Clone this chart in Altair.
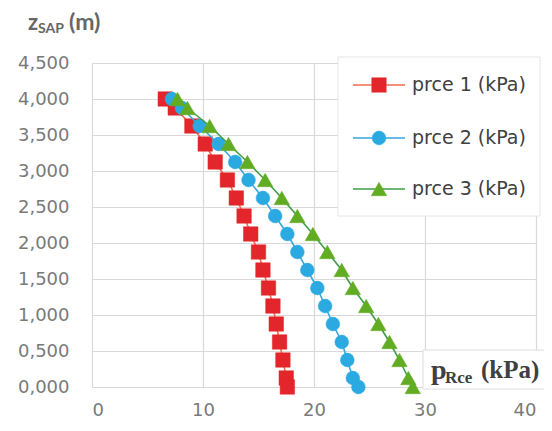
import altair as alt
import pandas as pd

# ---- data ----
z = [4.0, 3.875, 3.625, 3.375, 3.125, 2.875, 2.625, 2.375, 2.125,
     1.875, 1.625, 1.375, 1.125, 0.875, 0.625, 0.375, 0.125, 0.0]
p1 = [6.6, 7.5, 9.0, 10.2, 11.1, 12.2, 13.0, 13.7, 14.3,
      15.0, 15.4, 15.9, 16.3, 16.6, 16.9, 17.2, 17.5, 17.6]
p2 = [7.2, 8.1, 9.7, 11.4, 12.9, 14.1, 15.4, 16.5, 17.6,
      18.5, 19.4, 20.3, 21.0, 21.7, 22.5, 23.0, 23.5, 24.0]
p3 = [7.7, 8.6, 10.6, 12.3, 14.0, 15.6, 17.1, 18.5, 19.9,
      21.2, 22.5, 23.5, 24.7, 25.8, 26.8, 27.7, 28.5, 28.9]
series = ["prce 1 (kPa)", "prce 2 (kPa)", "prce 3 (kPa)"]
x_ticks = [0, 10, 20, 30, 40]
y_ticks = [0, 0.5, 1.0, 1.5, 2.0, 2.5, 3.0, 3.5, 4.0, 4.5]

# ---- styles ----
line_colors = ["#F26B4F", "#3AA6DD", "#3E9E48"]
fill_colors = ["#E3262B", "#2BA9E1", "#62AC24"]
shapes = ["square", "circle", "triangle-up"]
sizes = [210, 190, 240]
SANS = "DejaVu Sans"
TSANS = "Lato"
SERIF = "Liberation Serif"
W, H = 444, 324

rows = []
for s, vals in zip(series, [p1, p2, p3]):
    for zz, v in zip(z, vals):
        rows.append({"series": s, "p": v, "z": zz})
df = pd.DataFrame(rows)

x_enc = alt.X("p:Q", scale=alt.Scale(domain=[0, 40], nice=False),
              axis=alt.Axis(values=x_ticks, grid=True, gridColor="#D9D9D9",
                            gridWidth=1.2, domain=False, ticks=False,
                            labelFont=SANS, labelFontSize=18,
                            labelColor="#7A7A7A", labelPadding=14, title=None))
y_enc = alt.Y("z:Q", scale=alt.Scale(domain=[0, 4.5], nice=False),
              axis=alt.Axis(values=y_ticks, grid=True, gridColor="#D9D9D9",
                            gridWidth=1.2, domain=False, ticks=False,
                            labelExpr="replace(format(datum.value, '.3f'), '.', ',')",
                            labelFont=SANS, labelFontSize=18,
                            labelColor="#7A7A7A", labelPadding=23, title=None))

layers = []
for s, lc, fc, sh, sz in zip(series, line_colors, fill_colors, shapes, sizes):
    b = alt.Chart(df).transform_filter(alt.datum.series == s)
    layers.append(b.mark_line(color=lc, strokeWidth=1.6).encode(
        x=x_enc, y=y_enc, order=alt.Order("z:Q", sort="descending")))
    layers.append(b.mark_point(filled=True, opacity=1, shape=sh, size=sz,
                               fill=fc, stroke=fc, strokeWidth=0.5).encode(x=x_enc, y=y_enc))

one = pd.DataFrame({"k": [0]})
# legend box
layers.append(alt.Chart(one).mark_rect(fill="white", stroke="#E6E6E6", strokeWidth=1).encode(
    x=alt.value(246), x2=alt.value(448), y=alt.value(-6), y2=alt.value(153)))
leg_y = [22, 75, 126]
for s, lc, fc, sh, sz, yy in zip(series, line_colors, fill_colors, shapes, sizes, leg_y):
    layers.append(alt.Chart(one).mark_rule(color=lc, strokeWidth=1.6).encode(
        x=alt.value(261), x2=alt.value(313), y=alt.value(yy)))
    layers.append(alt.Chart(one).mark_point(filled=True, opacity=1, shape=sh, size=sz,
                                            fill=fc, stroke=fc, strokeWidth=0.5).encode(
        x=alt.value(287), y=alt.value(yy)))
    layers.append(alt.Chart(one).mark_text(align="left", baseline="middle", font=SANS,
                                           fontSize=19, color="#404040").encode(
        x=alt.value(320), y=alt.value(yy), text=alt.value(s)))

# x title box
layers.append(alt.Chart(one).mark_rect(fill="white", stroke="#DDDDDD", strokeWidth=1).encode(
    x=alt.value(331), x2=alt.value(470), y=alt.value(287), y2=alt.value(326)))
# x title  p_Rce (kPa)
layers.append(alt.Chart(one).mark_text(align="left", baseline="alphabetic", font=SERIF,
                                       fontWeight="bold", fontSize=28, color="#404040").encode(
    x=alt.value(339), y=alt.value(316), text=alt.value("p")))
layers.append(alt.Chart(one).mark_text(align="left", baseline="alphabetic", font=SERIF,
                                       fontWeight="bold", fontSize=17, color="#404040").encode(
    x=alt.value(353), y=alt.value(320), text=alt.value("Rce")))
layers.append(alt.Chart(one).mark_text(align="left", baseline="alphabetic", font=SERIF,
                                       fontWeight="bold", fontSize=25, color="#404040").encode(
    x=alt.value(389), y=alt.value(315), text=alt.value("(kPa)")))
# y title  z_SAP (m)
layers.append(alt.Chart(one).mark_text(align="left", baseline="alphabetic", font=TSANS,
                                       fontWeight="bold", fontSize=22, color="#666666").encode(
    x=alt.value(-64), y=alt.value(-33), text=alt.value("z")))
layers.append(alt.Chart(one).mark_text(align="left", baseline="alphabetic", font=TSANS,
                                       fontWeight="bold", fontSize=14, color="#666666").encode(
    x=alt.value(-54), y=alt.value(-30), text=alt.value("SAP")))
layers.append(alt.Chart(one).mark_text(align="left", baseline="alphabetic", font=TSANS,
                                       fontWeight="bold", fontSize=23, color="#666666").encode(
    x=alt.value(-23), y=alt.value(-33), text=alt.value("(m)")))

chart = alt.layer(*layers).properties(
    width=W, height=H,
    autosize=alt.AutoSizeParams(type="none"),
    padding={"left": 84, "top": 55, "right": 8, "bottom": 36},
).configure_view(strokeWidth=0)

chart.save("out.html", embed_options={"renderer": "svg", "actions": False})
